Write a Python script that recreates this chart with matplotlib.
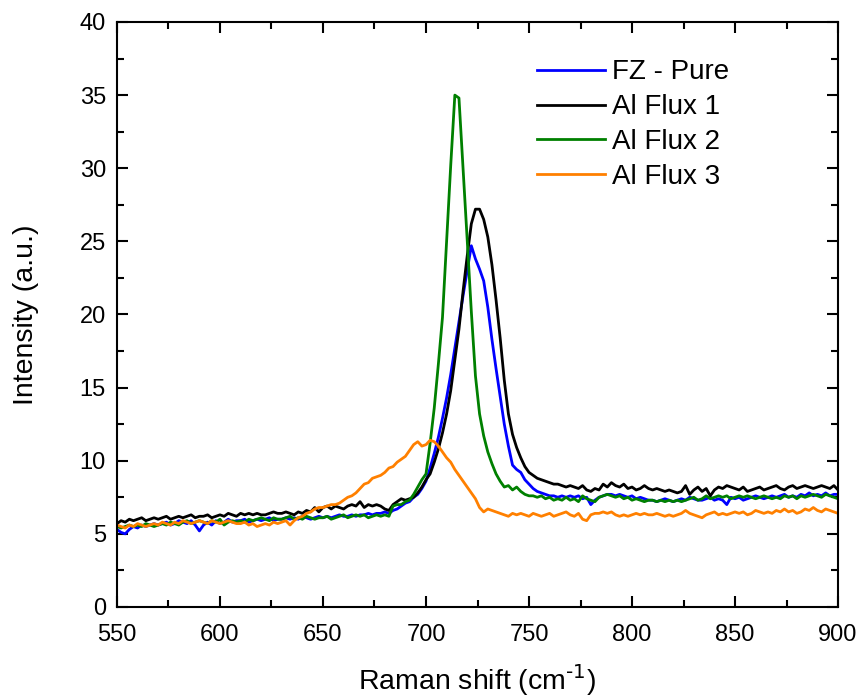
import numpy as np
import matplotlib
matplotlib.use("Agg")
import matplotlib.pyplot as plt
from matplotlib.ticker import MultipleLocator

plt.rcParams['font.family'] = ['Liberation Sans', 'DejaVu Sans']
plt.rcParams['mathtext.default'] = 'regular'

# Raman shift grid (cm^-1), 2 cm^-1 sampling
shift = np.arange(550, 901, 2)

fz_pure = [
    5.3, 5.1, 5.0, 5.3, 5.5, 5.4, 5.6, 5.5, 5.6, 5.7,
    5.6, 5.7, 5.8, 5.6, 5.7, 5.9, 5.8, 5.7, 5.9, 5.6,
    5.2, 5.6, 5.8, 5.6, 5.9, 5.7, 5.8, 6.0, 5.8, 5.9,
    5.9, 6.0, 5.8, 5.9, 6.0, 5.9, 6.0, 6.1, 5.9, 6.0,
    6.0, 6.1, 6.0, 6.1, 6.0, 6.2, 6.1, 6.0, 6.1, 6.2,
    6.1, 6.2, 6.1, 6.2, 6.3, 6.2, 6.2, 6.3, 6.2, 6.3,
    6.3, 6.4, 6.3, 6.4, 6.4, 6.5, 6.4, 6.6, 6.7, 6.9,
    7.1, 7.2, 7.5, 7.7, 8.1, 8.6, 9.5, 10.5, 11.6, 12.9,
    14.3, 15.9, 17.7, 19.5, 21.3, 23.0, 24.7, 23.8, 23.1, 22.3,
    20.5, 18.3, 16.3, 14.4, 12.5, 11.0, 9.7, 9.4, 9.2, 8.7,
    8.4, 8.1, 7.9, 7.8, 7.7, 7.6, 7.6, 7.5, 7.6, 7.5,
    7.6, 7.5, 7.6, 7.4, 7.5, 7.0, 7.3, 7.5, 7.6, 7.7,
    7.7, 7.6, 7.7, 7.6, 7.5, 7.6, 7.4, 7.5, 7.4, 7.3,
    7.3, 7.2, 7.3, 7.4, 7.3, 7.2, 7.3, 7.4, 7.3, 7.5,
    7.4, 7.3, 7.3, 7.4, 7.5, 7.3, 7.4, 7.3, 7.0, 7.5,
    7.4, 7.5, 7.3, 7.4, 7.5, 7.6, 7.5, 7.4, 7.5, 7.6,
    7.5, 7.6, 7.7, 7.5, 7.6, 7.5, 7.7, 7.6, 7.8, 7.6,
    7.7, 7.6, 7.8, 7.6, 7.7, 7.7,
]

al_flux_1 = [
    5.7, 5.9, 5.8, 6.0, 5.9, 6.0, 6.1, 5.9, 6.0, 6.1,
    6.0, 6.1, 6.2, 6.0, 6.1, 6.2, 6.1, 6.2, 6.3, 6.1,
    6.2, 6.2, 6.3, 6.1, 6.2, 6.3, 6.2, 6.4, 6.3, 6.2,
    6.4, 6.3, 6.4, 6.3, 6.4, 6.3, 6.3, 6.4, 6.5, 6.4,
    6.4, 6.5, 6.4, 6.3, 6.5, 6.4, 6.6, 6.5, 6.8, 6.5,
    6.8, 6.9, 6.7, 6.9, 6.8, 6.7, 6.9, 7.0, 6.9, 7.2,
    6.8, 7.0, 6.9, 7.0, 6.9, 6.7, 6.6, 7.0, 7.2, 7.4,
    7.3, 7.4, 7.5, 7.8, 8.2, 8.7, 9.1, 9.9, 10.8, 11.9,
    13.2, 14.8, 16.9, 19.0, 21.6, 24.0, 26.2, 27.2, 27.2, 26.5,
    25.3, 23.4, 21.0, 18.4, 15.5, 13.2, 11.8, 10.9, 10.2, 9.6,
    9.2, 9.0, 8.8, 8.7, 8.6, 8.5, 8.4, 8.4, 8.3, 8.2,
    8.3, 8.2, 8.1, 8.3, 8.0, 7.9, 8.1, 8.0, 8.4, 8.2,
    8.5, 8.3, 8.2, 8.4, 8.1, 8.2, 8.0, 8.1, 8.3, 8.1,
    8.0, 8.1, 8.0, 7.9, 8.0, 7.9, 7.8, 7.9, 8.3, 7.7,
    8.0, 8.2, 7.9, 8.1, 7.6, 8.0, 8.2, 8.1, 8.3, 8.2,
    8.1, 8.0, 8.2, 7.9, 8.0, 8.1, 8.2, 8.0, 8.1, 8.2,
    8.3, 8.1, 8.0, 8.2, 8.3, 8.1, 8.2, 8.3, 8.2, 8.1,
    8.2, 8.3, 8.2, 8.1, 8.3, 8.0,
]

al_flux_2 = [
    5.5, 5.4, 5.5, 5.6, 5.5, 5.6, 5.5, 5.7, 5.6, 5.5,
    5.6, 5.7, 5.6, 5.8, 5.7, 5.6, 5.8, 5.9, 5.7, 5.8,
    5.9, 5.8, 5.7, 5.9, 5.8, 6.0, 5.6, 5.8, 5.9, 5.8,
    5.9, 5.8, 6.0, 5.9, 6.0, 6.1, 6.0, 5.9, 6.1, 6.0,
    6.0, 6.1, 6.2, 6.0, 6.1, 6.0, 6.2, 6.1, 6.0, 6.1,
    6.1, 6.2, 6.0, 6.1, 6.2, 6.3, 6.1, 6.2, 6.3, 6.2,
    6.3, 6.1, 6.2, 6.3, 6.2, 6.3, 6.2, 6.9, 7.0, 7.0,
    7.2, 7.3, 7.7, 8.2, 8.7, 9.1, 11.2, 13.6, 16.6, 19.8,
    25.0, 30.2, 35.0, 34.8, 30.0, 25.1, 20.2, 15.8, 13.2, 11.7,
    10.6, 9.8, 9.1, 8.6, 8.2, 8.3, 8.0, 8.2, 7.9, 7.7,
    7.6, 7.6, 7.5, 7.6, 7.4, 7.5, 7.3, 7.4, 7.3, 7.5,
    7.3, 7.4, 7.2, 7.6, 7.4, 7.3, 7.2, 7.5, 7.6, 7.7,
    7.6, 7.5, 7.6, 7.4, 7.5, 7.3, 7.4, 7.3, 7.2, 7.3,
    7.3, 7.2, 7.3, 7.2, 7.3, 7.2, 7.3, 7.2, 7.3, 7.4,
    7.5, 7.3, 7.4, 7.6, 7.4, 7.5, 7.6, 7.5, 7.6, 7.4,
    7.5, 7.6, 7.5, 7.6, 7.5, 7.4, 7.5, 7.6, 7.5, 7.4,
    7.5, 7.4, 7.6, 7.5, 7.6, 7.4, 7.6, 7.5, 7.6, 7.7,
    7.6, 7.5, 7.7, 7.6, 7.5, 7.4,
]

al_flux_3 = [
    5.6, 5.5, 5.4, 5.6, 5.5, 5.7, 5.6, 5.5, 5.6, 5.7,
    5.6, 5.8, 5.7, 5.6, 5.8, 5.7, 5.9, 5.8, 5.7, 5.8,
    5.9, 5.8, 5.7, 5.9, 5.8, 5.7, 5.8, 5.9, 5.8, 5.7,
    5.7, 5.8, 5.6, 5.7, 5.5, 5.6, 5.7, 5.6, 5.8, 5.7,
    5.8, 5.9, 5.6, 5.9, 6.1, 6.2, 6.4, 6.5, 6.7, 6.8,
    6.8, 6.9, 7.0, 7.0, 7.1, 7.3, 7.5, 7.6, 7.8, 8.1,
    8.4, 8.5, 8.8, 8.9, 9.0, 9.2, 9.5, 9.6, 9.9, 10.1,
    10.3, 10.7, 11.1, 11.3, 11.0, 11.1, 11.4, 11.3, 11.0, 10.6,
    10.2, 9.9, 9.4, 9.0, 8.6, 8.2, 7.8, 7.4, 6.8, 6.5,
    6.7, 6.6, 6.5, 6.4, 6.3, 6.2, 6.4, 6.3, 6.4, 6.3,
    6.2, 6.4, 6.3, 6.2, 6.3, 6.4, 6.2, 6.3, 6.4, 6.5,
    6.3, 6.2, 6.4, 6.0, 5.9, 6.3, 6.4, 6.4, 6.5, 6.4,
    6.5, 6.3, 6.2, 6.3, 6.2, 6.3, 6.4, 6.3, 6.4, 6.3,
    6.3, 6.4, 6.3, 6.2, 6.3, 6.2, 6.3, 6.4, 6.6, 6.4,
    6.3, 6.2, 6.1, 6.3, 6.4, 6.5, 6.3, 6.4, 6.3, 6.4,
    6.5, 6.4, 6.5, 6.3, 6.4, 6.6, 6.5, 6.4, 6.5, 6.4,
    6.6, 6.5, 6.7, 6.5, 6.6, 6.4, 6.5, 6.7, 6.6, 6.8,
    6.6, 6.5, 6.7, 6.6, 6.5, 6.4,
]

series = [
    ("FZ - Pure", fz_pure, "#0000FF"),
    ("Al Flux 1", al_flux_1, "#000000"),
    ("Al Flux 2", al_flux_2, "#008000"),
    ("Al Flux 3", al_flux_3, "#FF8000"),
]

fig = plt.figure(figsize=(8.62, 7.00), dpi=100)
ax = fig.add_axes([0.1357, 0.1329, 0.8365, 0.8357])

for label, values, color in series:
    ax.plot(shift, values, color=color, lw=2.0, label=label)

ax.set_xlim(550, 900)
ax.set_ylim(0, 40)
ax.xaxis.set_major_locator(MultipleLocator(50))
ax.xaxis.set_minor_locator(MultipleLocator(25))
ax.yaxis.set_major_locator(MultipleLocator(5))
ax.yaxis.set_minor_locator(MultipleLocator(2.5))

ax.tick_params(which='both', direction='in', top=True, right=True,
               width=1.5, labelsize=17)
ax.tick_params(axis='x', pad=12)
ax.tick_params(axis='y', pad=8)
ax.tick_params(which='major', length=8)
ax.tick_params(which='minor', length=5)
for sp in ax.spines.values():
    sp.set_linewidth(1.5)

ax.set_xlabel(r"Raman shift (cm$^{\text{-1}}$)", fontsize=20.5, labelpad=12)
ax.set_ylabel("Intensity (a.u.)", fontsize=20.5, labelpad=29)

ax.legend(loc='upper left', bbox_to_anchor=(0.5825, 0.936), frameon=False,
          fontsize=20, handlelength=2.45, handletextpad=0.25,
          labelspacing=0.32, borderpad=0.0, borderaxespad=0.0)

fig.savefig("out.png", dpi=100)
